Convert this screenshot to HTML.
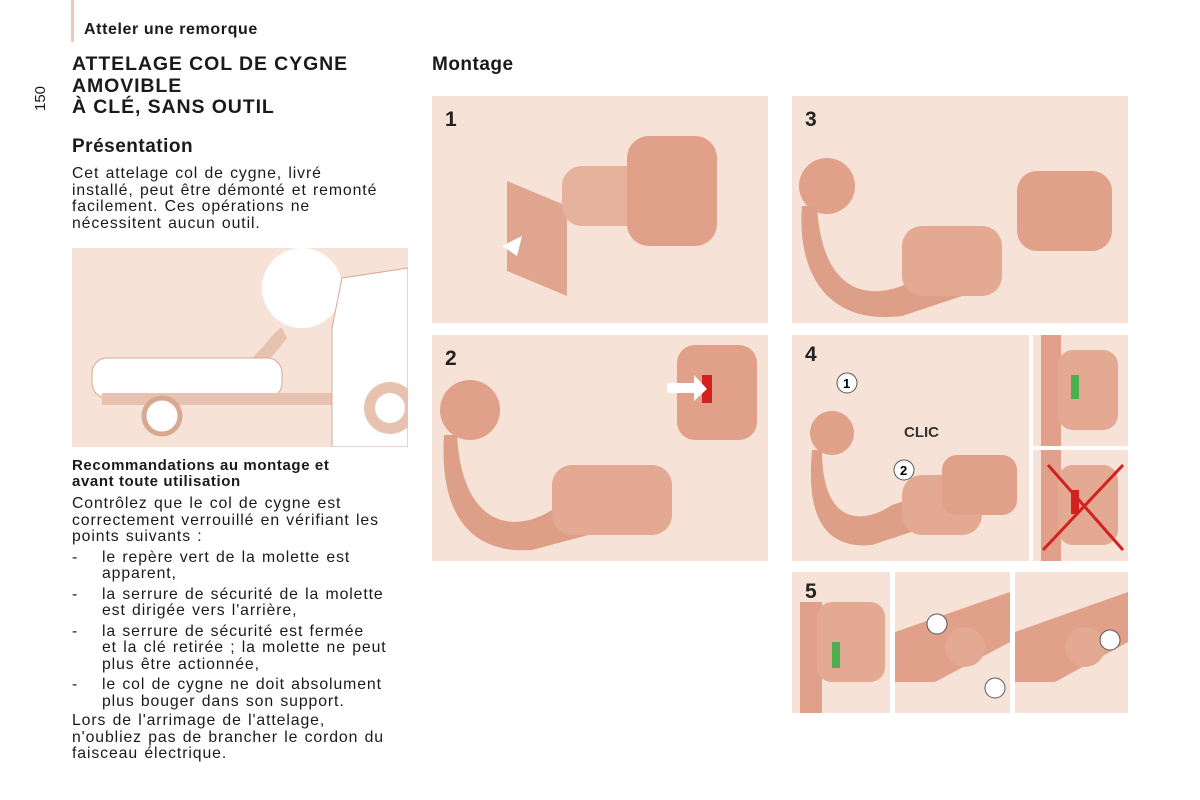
<!DOCTYPE html>
<html><head><meta charset="utf-8"><style>
body{margin:0;width:1200px;height:800px;background:#fff;position:relative;overflow:hidden;font-family:"Liberation Sans",sans-serif;color:#1a1a1a}
.a{position:absolute}
.p{position:absolute;background:#f7e2d8}
.n{position:absolute;font-weight:bold;font-size:21px;color:#222}
.t{font-size:15.8px;line-height:16.7px;white-space:nowrap;letter-spacing:0.9px;word-spacing:1px}
.li{position:relative;padding-left:30px;margin-top:3.6px}
.li:before{content:"-";position:absolute;left:0}
</style></head><body>
<div class="a" style="left:71px;top:0;width:3px;height:42px;background:#f0c8b8"></div>
<div class="a" style="left:84px;top:21px;font-weight:bold;font-size:16px;letter-spacing:0.6px">Atteler une remorque</div>
<div class="a" style="left:28px;top:90px;transform:rotate(-90deg);font-size:15px">150</div>
<div class="a" style="left:72px;top:54px;font-weight:bold;font-size:19.5px;line-height:21.5px;letter-spacing:0.9px">ATTELAGE COL DE CYGNE<br>AMOVIBLE<br>À CLÉ, SANS OUTIL</div>
<div class="a" style="left:72px;top:136px;font-weight:bold;font-size:19px;letter-spacing:0.5px">Présentation</div>
<div class="a t" style="left:72px;top:166px">Cet attelage col de cygne, livré<br>installé, peut être démonté et remonté<br>facilement. Ces opérations ne<br>nécessitent aucun outil.</div>
<div class="p" style="left:72px;top:248px;width:336px;height:199px">
<svg width="336" height="199"><circle cx="230" cy="40" r="40" fill="#fff"/><path d="M180 110 C200 90,205 80,210 80 L215 90 C200 110,190 120,180 120Z" fill="#e8c2b0"/><rect x="20" y="110" width="190" height="40" rx="15" fill="#fff" stroke="#d9a890"/><rect x="30" y="145" width="240" height="12" fill="#e8c2b0"/><circle cx="90" cy="168" r="18" fill="#fff" stroke="#d9a890" stroke-width="5"/><path d="M270 30 L336 20 L336 199 L260 199 L260 80Z" fill="#fff" stroke="#d9a890"/><circle cx="318" cy="160" r="26" fill="#e8c2b0"/><circle cx="318" cy="160" r="15" fill="#fff"/></svg></div>
<div class="a" style="left:72px;top:458px;font-weight:bold;font-size:15px;line-height:15.5px;letter-spacing:0.6px">Recommandations au montage et<br>avant toute utilisation</div>
<div class="a t" style="left:72px;top:496px">Contrôlez que le col de cygne est<br>correctement verrouillé en vérifiant les<br>points suivants :
<div class="li">le repère vert de la molette est<br>apparent,</div>
<div class="li">la serrure de sécurité de la molette<br>est dirigée vers l'arrière,</div>
<div class="li">la serrure de sécurité est fermée<br>et la clé retirée ; la molette ne peut<br>plus être actionnée,</div>
<div class="li">le col de cygne ne doit absolument<br>plus bouger dans son support.</div>
<div style="margin-top:2px">Lors de l'arrimage de l'attelage,<br>n'oubliez pas de brancher le cordon du<br>faisceau électrique.</div></div>
<div class="a" style="left:432px;top:54px;font-weight:bold;font-size:19px;letter-spacing:0.5px">Montage</div>

<div class="p" style="left:432px;top:96px;width:336px;height:227px"><svg width="336" height="227"><path d="M75 85 L135 110 L135 200 L75 175Z" fill="#e0a58e"/><rect x="130" y="70" width="90" height="60" rx="20" fill="#e7b29c"/><rect x="195" y="40" width="90" height="110" rx="22" fill="#e0a08a"/><path d="M70 150 L90 140 L85 160Z" fill="#fff"/></svg><div class="n" style="left:13px;top:12px">1</div></div>
<div class="p" style="left:792px;top:96px;width:336px;height:227px"><svg width="336" height="227"><circle cx="35" cy="90" r="28" fill="#e0a08a"/><path d="M25 110 C30 200,80 210,130 180 L180 150 L200 190 L110 220 C30 230,5 170,10 110Z" fill="#dd9f88"/><rect x="110" y="130" width="100" height="70" rx="20" fill="#e3a992"/><rect x="225" y="75" width="95" height="80" rx="20" fill="#e0a08a"/></svg><div class="n" style="left:13px;top:12px">3</div></div>
<div class="p" style="left:432px;top:335px;width:336px;height:226px"><svg width="336" height="226"><circle cx="38" cy="75" r="30" fill="#e0a08a"/><path d="M25 100 C30 190,80 200,120 175 L160 155 L175 195 L100 215 C25 220,8 160,12 100Z" fill="#dd9f88"/><rect x="120" y="130" width="120" height="70" rx="20" fill="#e3a992"/><rect x="245" y="10" width="80" height="95" rx="18" fill="#e0a08a"/><rect x="270" y="40" width="10" height="28" fill="#d32020"/><path d="M235 48 L262 48 L262 40 L275 54 L262 66 L262 58 L235 58Z" fill="#fff"/></svg><div class="n" style="left:13px;top:12px">2</div></div>
<div class="p" style="left:792px;top:335px;width:237px;height:226px"><svg width="237" height="226"><circle cx="40" cy="98" r="22" fill="#e0a08a"/><path d="M30 115 C30 190,70 190,100 170 L130 160 L140 190 L80 210 C25 215,15 170,20 115Z" fill="#dd9f88"/><rect x="110" y="140" width="80" height="60" rx="20" fill="#e3a992"/><rect x="150" y="120" width="75" height="60" rx="15" fill="#e0a08a"/><circle cx="55" cy="48" r="10" fill="#fff" stroke="#555"/><circle cx="112" cy="135" r="10" fill="#fff" stroke="#555"/><text x="51" y="53" font-size="13" font-weight="bold" font-family="Liberation Sans">1</text><text x="108" y="140" font-size="13" font-weight="bold" font-family="Liberation Sans">2</text><text x="112" y="102" font-size="15" font-weight="bold" font-family="Liberation Sans" fill="#333">CLIC</text></svg><div class="n" style="left:13px;top:8px">4</div></div>
<div class="p" style="left:1033px;top:335px;width:95px;height:111px"><svg width="95" height="111"><rect x="8" y="0" width="20" height="111" fill="#e0a08a"/><rect x="25" y="15" width="60" height="80" rx="15" fill="#e3a992"/><rect x="38" y="40" width="8" height="24" fill="#4caf50"/></svg></div>
<div class="p" style="left:1033px;top:450px;width:95px;height:111px"><svg width="95" height="111"><rect x="8" y="0" width="20" height="111" fill="#e0a08a"/><rect x="25" y="15" width="60" height="80" rx="15" fill="#e3a992"/><rect x="38" y="40" width="8" height="24" fill="#d32020"/><path d="M10 100 L90 15 M15 15 L90 100" stroke="#d32020" stroke-width="3"/></svg></div>
<div class="p" style="left:792px;top:572px;width:98px;height:141px"><svg width="98" height="141"><rect x="8" y="30" width="22" height="111" fill="#e0a08a"/><rect x="25" y="30" width="68" height="80" rx="15" fill="#e3a992"/><rect x="40" y="70" width="8" height="26" fill="#4caf50"/></svg><div class="n" style="left:13px;top:8px">5</div></div>
<div class="p" style="left:895px;top:572px;width:115px;height:141px"><svg width="115" height="141"><path d="M0 60 L115 20 L115 70 L40 110 L0 110Z" fill="#e0a08a"/><circle cx="70" cy="75" r="20" fill="#e3a992"/><circle cx="42" cy="52" r="10" fill="#fff" stroke="#555"/><circle cx="100" cy="116" r="10" fill="#fff" stroke="#555"/></svg></div>
<div class="p" style="left:1015px;top:572px;width:113px;height:141px"><svg width="113" height="141"><path d="M0 60 L113 20 L113 70 L40 110 L0 110Z" fill="#e0a08a"/><circle cx="70" cy="75" r="20" fill="#e3a992"/><circle cx="95" cy="68" r="10" fill="#fff" stroke="#555"/></svg></div>
</body></html>
